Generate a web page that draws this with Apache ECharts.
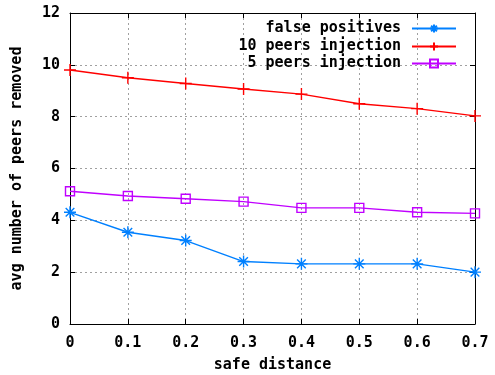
<!DOCTYPE html>
<html><head><meta charset="utf-8">
<script src="https://cdn.jsdelivr.net/npm/echarts@6/dist/echarts.min.js"></script>
<style>html,body{margin:0;padding:0;background:#fff}#c{width:495px;height:375px}</style>
</head><body><div id="c"></div>
<script>
const xValues = [0, 0.1, 0.2, 0.3, 0.4, 0.5, 0.6, 0.7];
const falsePositives = [4.31, 3.54, 3.22, 2.41, 2.32, 2.32, 2.32, 2.0];
const tenPeers = [9.8, 9.5, 9.28, 9.07, 8.87, 8.5, 8.31, 8.03];
const fivePeers = [5.12, 4.94, 4.83, 4.72, 4.48, 4.48, 4.31, 4.27];
const seriesNames = ['false positives', '10 peers injection', '5 peers injection'];
const colors = ['#0080ff', '#ff0000', '#c000ff'];

const FONT = 'DejaVu Sans Mono';
const pair = arr => xValues.map((x, i) => [x, arr[i]]);
const star = 'path://M0,-5L0,5M-5,0L5,0M-3.6,-3.6L3.6,3.6M-3.6,3.6L3.6,-3.6';
const plus = 'path://M0,-5L0,5M-5,0L5,0';
const square = 'path://M-5,-5L5,-5L5,5L-5,5Z';
const symbols = [star, plus, square];
const sizes = [12, 12, 9];
const datas = [falsePositives, tenPeers, fivePeers];

const series = seriesNames.map((n, i) => ({
  name: n, type: 'line', data: pair(datas[i]),
  symbol: symbols[i], symbolSize: sizes[i], showAllSymbol: true,
  lineStyle: { color: colors[i], width: 1.4 },
  itemStyle: { color: i === 2 ? 'rgba(0,0,0,0)' : colors[i], borderColor: colors[i], borderWidth: 1.4 },
  emphasis: { disabled: true }, animation: false, z: 3 + (2 - i)
}));

const legendTops = [16, 34, 51];
const legends = seriesNames.map((n, i) => ({
  data: [n], right: 33, top: legendTops[i], align: 'right',
  itemWidth: 44, itemHeight: 10, selectedMode: false,
  textStyle: { fontFamily: FONT, fontWeight: 'bold', fontSize: 15, color: '#000', padding: [0, 6, 0, 0] }
}));

const labelStyle = { fontFamily: FONT, fontWeight: 'bold', fontSize: 15, color: '#000' };
const gridLine = { show: true, lineStyle: { color: '#a0a0a0', type: [2, 3], width: 1 } };
const frameLine = { show: true, onZero: false, lineStyle: { color: '#000', width: 1 } };
const tick = { show: true, inside: true, length: 5, lineStyle: { color: '#000' } };

const chart = echarts.init(document.getElementById('c'), null, { renderer: 'canvas' });
chart.setOption({
  animation: false,
  backgroundColor: '#fff',
  grid: { left: 70, right: 20, top: 13, bottom: 51, containLabel: false, outerBoundsMode: 'none' },
  legend: legends,
  xAxis: [{
    type: 'value', min: 0, max: 0.7, interval: 0.1,
    name: 'safe distance', nameLocation: 'middle', nameGap: 34, nameTextStyle: labelStyle,
    axisLine: frameLine, axisTick: tick,
    axisLabel: { ...labelStyle, margin: 12, formatter: v => v === 0 ? '0' : v.toFixed(1) },
    splitLine: gridLine
  }, {
    type: 'value', position: 'top', min: 0, max: 0.7, interval: 0.1,
    axisLine: frameLine, axisTick: tick,
    axisLabel: { show: false }, splitLine: { show: false }
  }],
  yAxis: [{
    type: 'value', min: 0, max: 12, interval: 2,
    name: 'avg number of peers removed', nameLocation: 'middle', nameGap: 45, nameTextStyle: labelStyle,
    axisLine: frameLine, axisTick: tick,
    axisLabel: { ...labelStyle, margin: 10 },
    splitLine: gridLine
  }, {
    type: 'value', position: 'right', min: 0, max: 12, interval: 2,
    axisLine: frameLine, axisTick: tick,
    axisLabel: { show: false }, splitLine: { show: false }
  }],
  series: series
});
</script>
</body></html>
